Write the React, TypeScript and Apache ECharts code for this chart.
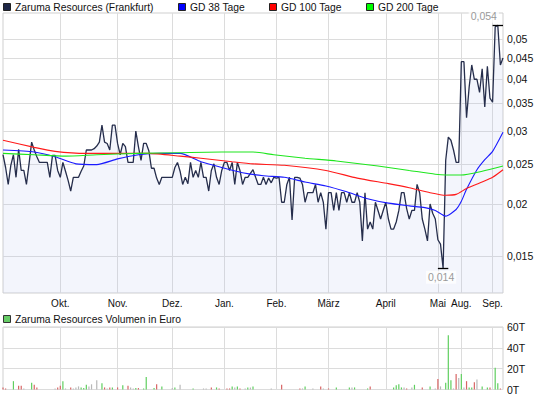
import React, { useEffect, useRef } from "react";
import * as echarts from "echarts";

// ---- data ----
const monthLabels = ["", "Okt.", "Nov.", "Dez.", "Jan.", "Feb.", "März", "April", "Mai", "Aug.", "Sep."];
const monthDays = [22, 22, 21, 20, 20, 20, 22, 20, 9, 12, 5];

const price = [
  // Sep
  0.0263, 0.0245, 0.0223, 0.0248, 0.0263, 0.0232, 0.0271, 0.0241, 0.0241, 0.0223, 0.025, 0.0282,
  0.027, 0.026, 0.0252, 0.0252, 0.0252, 0.0252, 0.0232, 0.0262, 0.0262, 0.0241,
  // Okt
  0.0232, 0.0252, 0.024, 0.0228, 0.0215, 0.0232, 0.0232, 0.0232, 0.024, 0.0247, 0.027, 0.027,
  0.027, 0.0272, 0.0276, 0.0282, 0.031, 0.0282, 0.028, 0.027, 0.031, 0.031,
  // Nov
  0.028, 0.0263, 0.028, 0.0275, 0.0252, 0.0252, 0.0252, 0.03, 0.0275, 0.0255, 0.028, 0.028,
  0.0269, 0.0244, 0.0244, 0.0231, 0.0223, 0.0232, 0.0232, 0.0232, 0.0232,
  // Dez
  0.0232, 0.0245, 0.0252, 0.024, 0.0223, 0.0232, 0.0224, 0.0252, 0.0232, 0.0241, 0.0232, 0.0252,
  0.0232, 0.0232, 0.0215, 0.0241, 0.025, 0.0232, 0.0223, 0.0241,
  // Jan
  0.0252, 0.0252, 0.0241, 0.0252, 0.0223, 0.0252, 0.0241, 0.0223, 0.0232, 0.0232, 0.0237, 0.0242,
  0.0232, 0.0223, 0.0223, 0.0232, 0.0223, 0.0231, 0.0225, 0.0232,
  // Feb
  0.0231, 0.0232, 0.0202, 0.0202, 0.0223, 0.0232, 0.0183, 0.0232, 0.0232, 0.0231, 0.0223, 0.0202,
  0.0213, 0.0213, 0.0213, 0.0223, 0.0202, 0.0213, 0.0202, 0.0174,
  // März
  0.0213, 0.0213, 0.0193, 0.0213, 0.0193, 0.0213, 0.0213, 0.0202, 0.0213, 0.0202, 0.0202, 0.0213,
  0.0202, 0.0163, 0.0213, 0.0174, 0.0181, 0.0174, 0.0202, 0.0193, 0.0184, 0.0193,
  // April
  0.0202, 0.0184, 0.0174, 0.0174, 0.0181, 0.0193, 0.0213, 0.0213, 0.0195, 0.0184, 0.0193, 0.0193,
  0.0223, 0.0213, 0.0184, 0.0174, 0.0163, 0.02, 0.019, 0.0184,
  // Mai
  0.0164, 0.016, 0.014, 0.0255, 0.029, 0.0285, 0.027, 0.0252, 0.0252,
  // Aug
  0.0441, 0.0441, 0.0323, 0.0383, 0.0433, 0.04, 0.04, 0.0372, 0.0424, 0.0343, 0.043, 0.036,
  // Sep
  0.0352, 0.0535, 0.054, 0.0433, 0.045,
];

// moving averages, read at sample days: [day index, value]
const gd38: [number, number][] = [
  [0, 0.027], [12, 0.0267], [20, 0.026], [28, 0.025], [36, 0.0249], [44, 0.0257], [52, 0.0263],
  [60, 0.0265], [68, 0.0265], [76, 0.0253], [84, 0.0245], [92, 0.0238], [100, 0.0234],
  [108, 0.0232], [116, 0.0226], [124, 0.0221], [132, 0.0214], [140, 0.0206], [148, 0.0201],
  [156, 0.0198], [162, 0.0196], [166, 0.0193], [170, 0.0187], [174, 0.0194], [176, 0.0203],
  [178, 0.0217], [182, 0.0242], [185, 0.0256], [188, 0.0268], [192, 0.0298],
];
const gd100: [number, number][] = [
  [0, 0.0285], [12, 0.0274], [20, 0.0268], [32, 0.0265], [44, 0.0265], [56, 0.0265], [68, 0.0261],
  [76, 0.0258], [88, 0.0253], [96, 0.025], [108, 0.0248], [124, 0.0241], [136, 0.0231],
  [148, 0.0224], [156, 0.0219], [164, 0.0213], [170, 0.021], [174, 0.0211], [178, 0.0218],
  [184, 0.0226], [188, 0.0232], [192, 0.0242],
];
const gd200: [number, number][] = [
  [0, 0.0265], [12, 0.0263], [24, 0.0261], [36, 0.0263], [52, 0.0265], [68, 0.0266], [84, 0.0267],
  [96, 0.0267], [104, 0.0263], [116, 0.0258], [128, 0.0254], [144, 0.0247], [156, 0.0241],
  [166, 0.0236], [170, 0.0235], [176, 0.0235], [184, 0.024], [192, 0.0247],
];

// volume in thousand euro: [day index, value, direction u/d/n]
const volumeBars: [number, number, string][] = [
  [0, 2, "d"], [1, 1, "d"], [4, 8, "u"], [6, 3.5, "d"], [7, 3.5, "d"], [8, 1, "n"], [11, 6.5, "u"],
  [12, 4.5, "d"], [13, 2, "d"], [20, 1, "n"], [21, 2, "d"], [22, 3.5, "d"], [23, 8, "u"], [24, 1, "n"],
  [26, 2, "d"], [27, 1, "n"], [28, 2, "n"], [29, 3, "n"], [30, 2, "u"], [31, 1.4, "u"], [32, 4.5, "u"],
  [33, 2.8, "n"], [34, 5, "n"], [36, 9, "n"], [38, 6, "u"], [39, 2, "d"], [40, 1, "n"], [41, 2, "d"],
  [42, 2, "u"], [44, 2, "d"], [46, 4, "u"], [48, 3.5, "d"], [49, 2, "n"], [50, 1, "n"], [51, 1.4, "u"],
  [52, 1.4, "d"], [54, 1, "u"], [55, 12, "u"], [58, 1.4, "u"], [59, 5, "d"], [61, 3, "u"], [65, 1.4, "n"],
  [66, 2, "u"], [68, 4.5, "n"], [73, 1, "u"], [77, 1, "n"], [78, 1, "n"], [80, 2, "d"], [82, 2, "u"],
  [83, 1, "d"], [86, 1, "d"], [87, 1, "d"], [88, 3, "u"], [89, 2, "n"], [90, 3, "u"], [91, 1, "d"],
  [93, 1, "n"], [94, 2, "u"], [95, 2, "n"], [96, 3, "u"], [103, 1, "n"], [107, 4.5, "d"], [114, 1, "d"],
  [115, 1, "n"], [116, 3, "u"], [119, 1, "n"], [122, 3, "d"], [123, 1, "n"], [125, 1, "d"], [128, 2, "u"],
  [133, 2, "u"], [134, 2, "n"], [135, 2, "u"], [140, 1, "u"], [141, 3, "d"], [150, 2, "u"], [151, 4, "u"],
  [152, 5, "u"], [153, 2, "u"], [154, 2, "n"], [155, 1, "d"], [157, 2, "n"], [158, 4.5, "u"], [161, 2, "d"],
  [164, 3, "u"], [166, 1, "n"], [167, 10, "d"], [168, 3, "n"], [170, 6.5, "u"], [171, 52, "u"],
  [172, 9, "u"], [173, 1, "n"], [174, 15, "d"], [175, 11, "n"], [176, 15, "u"], [177, 2, "n"],
  [178, 8, "d"], [179, 2, "u"], [180, 2, "u"], [181, 7, "d"], [182, 9.5, "n"], [184, 3, "u"],
  [186, 2, "u"], [187, 2, "d"], [189, 21, "u"], [190, 6, "u"], [191, 1, "d"],
];

const priceTicks = [0.015, 0.02, 0.025, 0.03, 0.035, 0.04, 0.045, 0.05];
const volTickStep = 20;
const volMax = 60;

const FONT = "'Liberation Sans', Arial, sans-serif";

export default function App() {
  const ref = useRef<HTMLDivElement>(null);
  useEffect(() => {
    if (!ref.current) return;
    const chart = echarts.init(ref.current, undefined, { renderer: "svg" });

    const cats: string[] = [];
    const monthStart = new Set<number>();
    let idx = 0;
    monthDays.forEach((n, m) => {
      if (m > 0) monthStart.add(idx);
      for (let d = 0; d < n; d++) cats.push(`${monthLabels[m]}|${d}`);
      idx += n;
    });
    const isStart = (i: number) => monthStart.has(i);
    const comma = (v: number) => String(v).replace(".", ",");

    const maxV = Math.max(...price);
    const minV = Math.min(...price);
    const iMax = price.indexOf(maxV);
    const iMin = price.indexOf(minV);
    const last = cats.length - 1;
    const seg = (i: number, v: number) => [
      { coord: [cats[Math.max(0, i - 2)], v] },
      { coord: [cats[Math.min(last, i + 2)], v] },
    ];

    const dirColor: Record<string, string> = { u: "#5fcf5f", d: "#d86464", n: "#b8b8b8" };
    const volData = cats.map(() => ({ value: 0, itemStyle: { color: "#b8b8b8" } }));
    volumeBars.forEach(([i, v, d]) => {
      volData[i] = { value: v * 1000, itemStyle: { color: dirColor[d] } };
    });

    const gridCol = "#dcdcdc";
    const xCommon = {
      type: "category" as const,
      data: cats,
      boundaryGap: false,
      axisLine: { show: false },
      axisTick: { show: false },
      splitLine: { show: true, interval: (i: number) => isStart(i), lineStyle: { color: gridCol, width: 1 } },
    };

    const legendItems = [
      { x: 3.5, tx: 15, color: "#1e2747", text: "Zaruma Resources (Frankfurt)" },
      { x: 178.5, tx: 190, color: "#0000ff", text: "GD 38 Tage" },
      { x: 269.5, tx: 281, color: "#ff0000", text: "GD 100 Tage" },
      { x: 366.5, tx: 378, color: "#00ff00", text: "GD 200 Tage" },
    ];
    const graphics: any[] = [];
    legendItems.forEach((it) => {
      graphics.push({
        type: "rect",
        shape: { x: it.x, y: 3.5, width: 7, height: 7 },
        style: { fill: it.color, stroke: "#222", lineWidth: 1 },
      });
      graphics.push({
        type: "text",
        x: it.tx,
        y: 7,
        style: { text: it.text, fill: "#111", font: `10.3px ${FONT}`, verticalAlign: "middle" },
      });
    });
    graphics.push({
      type: "rect",
      shape: { x: 3.5, y: 315.5, width: 7, height: 7 },
      style: { fill: "#66cc66", stroke: "#333", lineWidth: 1 },
    });
    graphics.push({
      type: "text",
      x: 15,
      y: 319.5,
      style: { text: "Zaruma Resources Volumen in Euro", fill: "#111", font: `10.3px ${FONT}`, verticalAlign: "middle" },
    });

    chart.setOption({
      animation: false,
      textStyle: { fontFamily: FONT },
      graphic: graphics,
      grid: [
        { left: 3, right: 42, top: 13, height: 280, show: true, borderColor: "#cfcfcf", borderWidth: 1 },
        { left: 3, right: 42, top: 327, height: 63, show: true, borderColor: "#cfcfcf", borderWidth: 1 },
      ],
      xAxis: [
        {
          ...xCommon,
          gridIndex: 0,
          axisLabel: {
            interval: (i: number) => isStart(i),
            formatter: (v: string) => v.split("|")[0],
            fontSize: 10,
            color: "#111",
            margin: 5,
            fontFamily: FONT,
          },
        },
        { ...xCommon, gridIndex: 1, axisLabel: { show: false } },
      ],
      yAxis: [
        {
          type: "log",
          logBase: 10,
          gridIndex: 0,
          position: "right",
          min: 0.0122,
          max: 0.0578,
          axisLine: { show: false },
          axisTick: { show: false, customValues: priceTicks },
          splitLine: { show: true, lineStyle: { color: gridCol, width: 1 } },
          axisLabel: {
            customValues: priceTicks,
            formatter: (v: number) => comma(v),
            fontSize: 10.5,
            color: "#111",
            margin: 4,
            fontFamily: FONT,
          },
        },
        {
          type: "value",
          gridIndex: 1,
          position: "right",
          min: 0,
          max: volMax * 1000,
          interval: volTickStep * 1000,
          axisLine: { show: false },
          axisTick: { show: false },
          splitLine: { show: true, lineStyle: { color: gridCol, width: 1 } },
          axisLabel: {
            formatter: (v: number) => `${v / 1000}T`,
            fontSize: 10.5,
            color: "#111",
            margin: 4,
            fontFamily: FONT,
          },
        },
      ],
      series: [
        {
          type: "line",
          name: "Zaruma Resources (Frankfurt)",
          xAxisIndex: 0,
          yAxisIndex: 0,
          data: price,
          showSymbol: false,
          lineStyle: { color: "#262e4c", width: 1.3 },
          itemStyle: { color: "#262e4c" },
          areaStyle: { color: "rgba(170,185,235,0.2)", origin: "start" },
          z: 3,
          markLine: {
            silent: true,
            symbol: ["none", "none"],
            label: { show: false },
            lineStyle: { color: "#000", width: 1.3, type: "solid" },
            data: [seg(iMax, maxV), seg(iMin, minV)] as any,
          },
          markPoint: {
            silent: true,
            symbol: "rect",
            symbolSize: 0,
            data: [
              {
                coord: [cats[iMax], maxV],
                label: { offset: [-14, -9] },
              },
              {
                coord: [cats[iMin], minV],
                label: { offset: [-2, 9] },
              },
            ],
            label: {
              show: true,
              position: "inside",
              formatter: (p: any) => comma(p.data.coord[1]),
              color: "#9a9a9a",
              fontSize: 10.5,
              fontFamily: FONT,
              backgroundColor: "rgba(255,255,255,0.75)",
              padding: [1, 2],
            },
          },
        },
        {
          type: "line",
          name: "GD 38 Tage",
          data: gd38,
          showSymbol: false,
          smooth: 0.2,
          lineStyle: { color: "#1a1aff", width: 1.1 },
          z: 4,
        },
        {
          type: "line",
          name: "GD 100 Tage",
          data: gd100,
          showSymbol: false,
          smooth: 0.2,
          lineStyle: { color: "#ff1a1a", width: 1.1 },
          z: 4,
        },
        {
          type: "line",
          name: "GD 200 Tage",
          data: gd200,
          showSymbol: false,
          smooth: 0.2,
          lineStyle: { color: "#1ee61e", width: 1.1 },
          z: 4,
        },
        {
          type: "bar",
          name: "Volumen",
          xAxisIndex: 1,
          yAxisIndex: 1,
          data: volData,
          barWidth: 1.2,
        },
      ],
    });
    return () => chart.dispose();
  }, []);
  return (
    <div
      ref={ref}
      style={{ position: "fixed", left: 0, top: 0, width: 545, height: 395, background: "#fff" }}
    />
  );
}
